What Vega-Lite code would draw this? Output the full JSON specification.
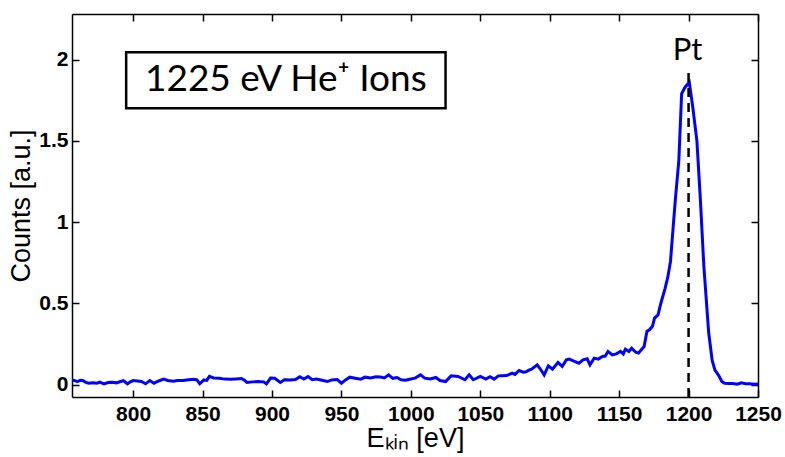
{
  "$schema": "https://vega.github.io/schema/vega-lite/v6.json",
  "width": 686,
  "height": 383,
  "autosize": "none",
  "padding": {"left": 72, "top": 14, "right": 27, "bottom": 60},
  "background": "white",
  "config": {
    "view": {"stroke": null}
  },
  "datasets": {
    "spectrum": [
      {"E": 756, "counts": 0.03}, {"E": 758, "counts": 0.026}, {"E": 760, "counts": 0.02}, {"E": 762, "counts": 0.028},
      {"E": 764, "counts": 0.025}, {"E": 766, "counts": 0.015}, {"E": 768, "counts": 0.01}, {"E": 771, "counts": 0.012},
      {"E": 774, "counts": 0.01}, {"E": 776, "counts": 0.016}, {"E": 779, "counts": 0.006}, {"E": 782, "counts": 0.014},
      {"E": 785, "counts": 0.016}, {"E": 788, "counts": 0.012}, {"E": 791, "counts": 0.02}, {"E": 793, "counts": 0.025},
      {"E": 796, "counts": 0.006}, {"E": 798, "counts": 0.018}, {"E": 800, "counts": 0.026}, {"E": 803, "counts": 0.024},
      {"E": 806, "counts": 0.02}, {"E": 809, "counts": 0.006}, {"E": 812, "counts": 0.026}, {"E": 815, "counts": 0.01},
      {"E": 818, "counts": 0.022}, {"E": 822, "counts": 0.035}, {"E": 825, "counts": 0.027}, {"E": 829, "counts": 0.022},
      {"E": 832, "counts": 0.027}, {"E": 836, "counts": 0.026}, {"E": 840, "counts": 0.031}, {"E": 844, "counts": 0.034},
      {"E": 846, "counts": 0.03}, {"E": 848, "counts": 0.006}, {"E": 851, "counts": 0.03}, {"E": 853, "counts": 0.027},
      {"E": 855, "counts": 0.052}, {"E": 858, "counts": 0.042}, {"E": 862, "counts": 0.04}, {"E": 866, "counts": 0.035},
      {"E": 870, "counts": 0.034}, {"E": 874, "counts": 0.036}, {"E": 878, "counts": 0.038}, {"E": 880, "counts": 0.03},
      {"E": 882, "counts": 0.014}, {"E": 886, "counts": 0.018}, {"E": 890, "counts": 0.02}, {"E": 894, "counts": 0.018},
      {"E": 896, "counts": 0.006}, {"E": 899, "counts": 0.041}, {"E": 902, "counts": 0.04}, {"E": 906, "counts": 0.014},
      {"E": 909, "counts": 0.031}, {"E": 913, "counts": 0.03}, {"E": 917, "counts": 0.033}, {"E": 920, "counts": 0.05},
      {"E": 923, "counts": 0.035}, {"E": 926, "counts": 0.051}, {"E": 929, "counts": 0.031}, {"E": 932, "counts": 0.035},
      {"E": 936, "counts": 0.028}, {"E": 940, "counts": 0.02}, {"E": 943, "counts": 0.03}, {"E": 947, "counts": 0.033},
      {"E": 950, "counts": 0.01}, {"E": 953, "counts": 0.03}, {"E": 956, "counts": 0.047}, {"E": 960, "counts": 0.04},
      {"E": 964, "counts": 0.035}, {"E": 967, "counts": 0.047}, {"E": 971, "counts": 0.042}, {"E": 975, "counts": 0.05},
      {"E": 978, "counts": 0.048}, {"E": 981, "counts": 0.042}, {"E": 984, "counts": 0.061}, {"E": 987, "counts": 0.04},
      {"E": 990, "counts": 0.045}, {"E": 993, "counts": 0.031}, {"E": 996, "counts": 0.028}, {"E": 1000, "counts": 0.036},
      {"E": 1003, "counts": 0.041}, {"E": 1007, "counts": 0.061}, {"E": 1010, "counts": 0.041}, {"E": 1014, "counts": 0.036},
      {"E": 1018, "counts": 0.045}, {"E": 1021, "counts": 0.026}, {"E": 1025, "counts": 0.02}, {"E": 1029, "counts": 0.055},
      {"E": 1034, "counts": 0.051}, {"E": 1039, "counts": 0.031}, {"E": 1042, "counts": 0.061}, {"E": 1045, "counts": 0.031},
      {"E": 1050, "counts": 0.051}, {"E": 1054, "counts": 0.035}, {"E": 1057, "counts": 0.05}, {"E": 1060, "counts": 0.035},
      {"E": 1063, "counts": 0.055}, {"E": 1066, "counts": 0.056}, {"E": 1069, "counts": 0.057}, {"E": 1073, "counts": 0.072},
      {"E": 1075, "counts": 0.064}, {"E": 1078, "counts": 0.088}, {"E": 1081, "counts": 0.078}, {"E": 1083, "counts": 0.08},
      {"E": 1085, "counts": 0.09}, {"E": 1087, "counts": 0.096}, {"E": 1091, "counts": 0.123}, {"E": 1093, "counts": 0.1},
      {"E": 1096, "counts": 0.061}, {"E": 1099, "counts": 0.117}, {"E": 1102, "counts": 0.096}, {"E": 1106, "counts": 0.137},
      {"E": 1109, "counts": 0.113}, {"E": 1112, "counts": 0.154}, {"E": 1114, "counts": 0.158}, {"E": 1117, "counts": 0.147},
      {"E": 1121, "counts": 0.133}, {"E": 1124, "counts": 0.154}, {"E": 1127, "counts": 0.16}, {"E": 1129, "counts": 0.123},
      {"E": 1132, "counts": 0.164}, {"E": 1135, "counts": 0.158}, {"E": 1138, "counts": 0.174}, {"E": 1140, "counts": 0.177},
      {"E": 1142, "counts": 0.205}, {"E": 1145, "counts": 0.184}, {"E": 1148, "counts": 0.19}, {"E": 1151, "counts": 0.205},
      {"E": 1153, "counts": 0.19}, {"E": 1154.5, "counts": 0.219}, {"E": 1157, "counts": 0.205}, {"E": 1159, "counts": 0.225},
      {"E": 1162, "counts": 0.2}, {"E": 1164, "counts": 0.195}, {"E": 1166, "counts": 0.215}, {"E": 1168, "counts": 0.235},
      {"E": 1170, "counts": 0.328}, {"E": 1172, "counts": 0.34}, {"E": 1174, "counts": 0.36}, {"E": 1175.5, "counts": 0.41},
      {"E": 1178, "counts": 0.43}, {"E": 1180, "counts": 0.5}, {"E": 1183, "counts": 0.59}, {"E": 1185, "counts": 0.66},
      {"E": 1187, "counts": 0.76}, {"E": 1189, "counts": 0.98}, {"E": 1190.5, "counts": 1.14}, {"E": 1193, "counts": 1.38},
      {"E": 1195, "counts": 1.79}, {"E": 1197.5, "counts": 1.83}, {"E": 1200.5, "counts": 1.86}, {"E": 1203, "counts": 1.71},
      {"E": 1206, "counts": 1.5}, {"E": 1208.5, "counts": 1.14}, {"E": 1211, "counts": 0.73}, {"E": 1214.5, "counts": 0.32},
      {"E": 1217, "counts": 0.15}, {"E": 1219, "counts": 0.09}, {"E": 1221.5, "counts": 0.06}, {"E": 1224, "counts": 0.02},
      {"E": 1226, "counts": 0.01}, {"E": 1229, "counts": 0.008}, {"E": 1232, "counts": 0.008}, {"E": 1235, "counts": 0.004},
      {"E": 1238, "counts": 0.012}, {"E": 1241, "counts": 0.006}, {"E": 1244, "counts": 0.006}, {"E": 1247, "counts": 0.004},
      {"E": 1250, "counts": 0.005}
    ],
    "marker": [{"E": 1200, "counts": -0.075, "counts2": 1.95, "label": "Pt", "labelY": 2.0}],
    "box": [{"E": 795, "E2": 1025, "counts": 1.70, "counts2": 2.045, "cx": 910, "cy": 1.872, "label": "1225 eV He⁺ Ions"}]
  },
  "resolve": {"axis": {"x": "independent", "y": "independent"}},
  "layer": [
    {
      "data": {"name": "spectrum"},
      "mark": {"type": "line", "color": "#0000ff", "strokeWidth": 3, "clip": true},
      "encoding": {
        "x": {"field": "E", "type": "quantitative", "scale": {"domain": [756, 1250], "nice": false, "zero": false},
              "axis": {"orient": "bottom", "values": [800, 850, 900, 950, 1000, 1050, 1100, 1150, 1200, 1250], "format": "d",
                       "grid": true, "gridColor": "black", "gridWidth": 1.5, "gridDash": [7, 2000], "gridOpacity": 1,
                       "domainColor": "black", "domainWidth": 1.5, "ticks": false, "tickSize": 0,
                       "labelFont": "Liberation Sans", "labelFontWeight": "bold", "labelFontSize": 21, "labelColor": "black",
                       "labelPadding": 6, "labelFlush": false, "labelOverlap": false,
                       "title": "Eₖᵢₙ [eV]", "titleFont": "Liberation Sans", "titleFontWeight": 400, "titleFontSize": 27, "titleColor": "black", "titlePadding": 1}},
        "y": {"field": "counts", "type": "quantitative", "scale": {"domain": [-0.075, 2.28], "nice": false, "zero": false},
              "axis": {"orient": "left", "values": [0, 0.5, 1, 1.5, 2], "format": "~g",
                       "grid": true, "gridColor": "black", "gridWidth": 1.5, "gridDash": [7, 2000], "gridOpacity": 1,
                       "domainColor": "black", "domainWidth": 1.5, "ticks": false, "tickSize": 0,
                       "labelFont": "Liberation Sans", "labelFontWeight": "bold", "labelFontSize": 21, "labelColor": "black",
                       "labelPadding": 4, "labelFlush": false, "labelOverlap": false,
                       "title": "Counts [a.u.]", "titleFont": "Liberation Sans", "titleFontWeight": 400, "titleFontSize": 27, "titleColor": "black", "titlePadding": 3}}
      }
    },
    {
      "data": {"name": "marker"},
      "mark": {"type": "rule", "color": "black", "strokeWidth": 2.5, "strokeDash": [9, 6]},
      "encoding": {
        "x": {"field": "E", "type": "quantitative", "scale": {"domain": [756, 1250], "nice": false, "zero": false}, "axis": null},
        "y": {"field": "counts", "type": "quantitative", "scale": {"domain": [-0.075, 2.28], "nice": false, "zero": false}, "axis": null},
        "y2": {"field": "counts2"}
      }
    },
    {
      "data": {"name": "marker"},
      "mark": {"type": "text", "font": "Lato", "fontSize": 31, "color": "black", "align": "center", "baseline": "alphabetic", "dx": -1},
      "encoding": {
        "x": {"field": "E", "type": "quantitative", "scale": {"domain": [756, 1250], "nice": false, "zero": false}, "axis": null},
        "y": {"field": "labelY", "type": "quantitative", "scale": {"domain": [-0.075, 2.28], "nice": false, "zero": false}, "axis": null},
        "text": {"field": "label"}
      }
    },
    {
      "data": {"name": "box"},
      "mark": {"type": "rect", "fill": "white", "stroke": "black", "strokeWidth": 2.5},
      "encoding": {
        "x": {"field": "E", "type": "quantitative", "scale": {"domain": [756, 1250], "nice": false, "zero": false}, "axis": null},
        "x2": {"field": "E2"},
        "y": {"field": "counts", "type": "quantitative", "scale": {"domain": [-0.075, 2.28], "nice": false, "zero": false}, "axis": null},
        "y2": {"field": "counts2"}
      }
    },
    {
      "data": {"name": "box"},
      "mark": {"type": "text", "font": "Lato", "fontSize": 37, "color": "black", "align": "center", "baseline": "middle"},
      "encoding": {
        "x": {"field": "cx", "type": "quantitative", "scale": {"domain": [756, 1250], "nice": false, "zero": false}, "axis": null},
        "y": {"field": "cy", "type": "quantitative", "scale": {"domain": [-0.075, 2.28], "nice": false, "zero": false}, "axis": null},
        "text": {"field": "label"}
      }
    },
    {
      "data": {"name": "marker"},
      "mark": {"type": "rule", "opacity": 0},
      "encoding": {
        "x": {"field": "E", "type": "quantitative", "scale": {"domain": [756, 1250], "nice": false, "zero": false},
              "axis": {"orient": "top", "values": [800, 850, 900, 950, 1000, 1050, 1100, 1150, 1200, 1250], "labels": false, "title": null,
                       "grid": true, "gridColor": "black", "gridWidth": 1.5, "gridDash": [7, 2000], "gridOpacity": 1,
                       "domainColor": "black", "domainWidth": 1.5, "ticks": false}},
        "y": {"field": "counts", "type": "quantitative", "scale": {"domain": [-0.075, 2.28], "nice": false, "zero": false},
              "axis": {"orient": "right", "values": [0, 0.5, 1, 1.5, 2], "labels": false, "title": null,
                       "grid": true, "gridColor": "black", "gridWidth": 1.5, "gridDash": [7, 2000], "gridOpacity": 1,
                       "domainColor": "black", "domainWidth": 1.5, "ticks": false}}
      }
    }
  ]
}
